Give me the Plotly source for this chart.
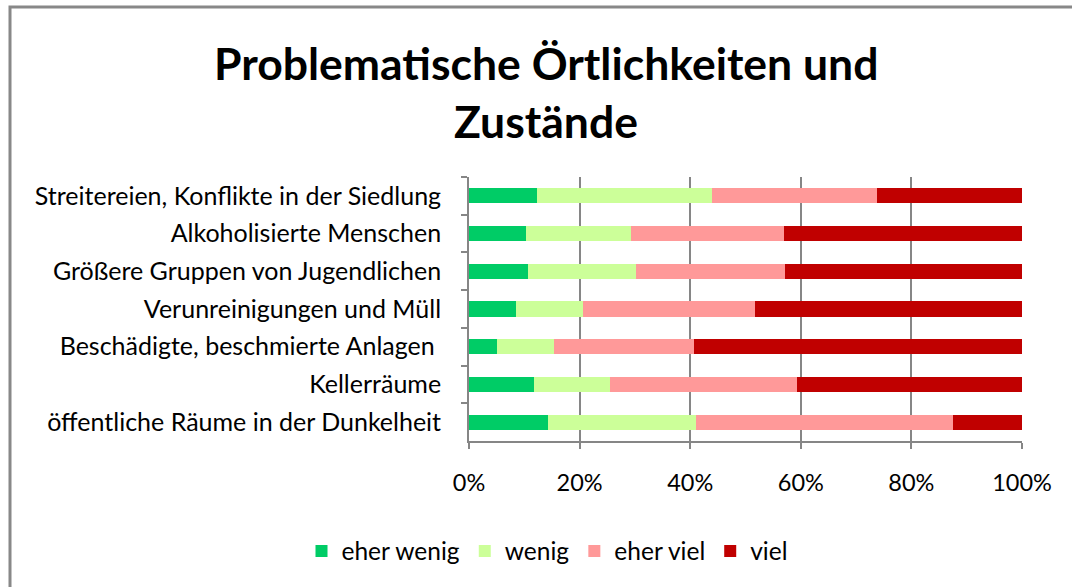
import plotly.graph_objects as go

categories = [
    "Streitereien, Konflikte in der Siedlung",
    "Alkoholisierte Menschen",
    "Größere Gruppen von Jugendlichen",
    "Verunreinigungen und Müll",
    "Beschädigte, beschmierte Anlagen ",
    "Kellerräume",
    "öffentliche Räume in der Dunkelheit",
]
eher_wenig = [12.3, 10.3, 10.6, 8.5, 5.0, 11.7, 14.2]
wenig = [31.6, 19.0, 19.6, 12.2, 10.3, 13.8, 26.8]
eher_viel = [29.8, 27.6, 26.9, 31.0, 25.4, 33.8, 46.5]
viel = [26.3, 43.1, 42.9, 48.3, 59.3, 40.7, 12.5]

series_names = ["eher wenig", "wenig", "eher viel", "viel"]
series_values = [eher_wenig, wenig, eher_viel, viel]
series_colors = ["#00CC66", "#CCFF99", "#FF9999", "#C00000"]

x_ticks = [0, 20, 40, 60, 80, 100]
x_tick_labels = ["0%", "20%", "40%", "60%", "80%", "100%"]

FONT = "Lato"
W, H = 1072, 587
# target page coordinates of the plot area
PL, PR, PT, PB = 469, 1022, 177, 441
L, R, T, B = PL, W - PR, PT, H - PB
pw, ph = W - L - R, H - T - B

fig = go.Figure()
for name, vals, col in zip(series_names, series_values, series_colors):
    fig.add_trace(go.Bar(
        y=categories, x=vals, name=name, orientation="h",
        marker=dict(color=col, line=dict(width=0)),
    ))

def px_x(px):
    return (px - PL) / pw

def px_y(py):
    return (PB - py) / ph

fig.update_layout(
    width=W, height=H,
    margin=dict(l=L, r=R, t=T, b=B),
    barmode="stack", bargap=0.6,
    paper_bgcolor="white", plot_bgcolor="white",
    font=dict(family=FONT, size=24, color="#000000"),
    showlegend=True,
    legend=dict(
        orientation="h", x=px_x(547), y=px_y(551), xanchor="center", yanchor="middle",
        traceorder="normal", font=dict(family=FONT, size=24.5), itemsizing="constant",
        itemwidth=30,
    ),
    xaxis=dict(
        range=[0, 100], tickvals=x_ticks, ticktext=x_tick_labels,
        showgrid=True, gridcolor="#868686", gridwidth=1.8,
        showline=True, linecolor="#868686", linewidth=1.8,
        ticks="outside", ticklen=6, tickcolor="#868686", tickwidth=1.5,
        ticklabelstandoff=14, zeroline=False, fixedrange=True,
        tickfont=dict(family=FONT, size=23.5),
    ),
    yaxis=dict(
        autorange="reversed", tickson="boundaries",
        showline=True, linecolor="#868686", linewidth=1.8,
        ticks="outside", ticklen=6, tickcolor="#868686", tickwidth=1.5,
        ticklabelstandoff=21, showgrid=False,
        tickfont=dict(family=FONT, size=25),
    ),
    annotations=[
        dict(text="<b>Problematische Örtlichkeiten und</b>", xref="paper", yref="paper",
             x=px_x(546), y=px_y(63), xanchor="center", yanchor="middle", showarrow=False,
             font=dict(family=FONT, size=44.5, color="#000000")),
        dict(text="<b>Zustände</b>", xref="paper", yref="paper",
             x=px_x(546), y=px_y(120), xanchor="center", yanchor="middle", showarrow=False,
             font=dict(family=FONT, size=44.5, color="#000000")),
    ],
    shapes=[
        dict(type="rect", xref="paper", yref="paper",
             x0=px_x(10), x1=px_x(1085), y0=px_y(7), y1=px_y(600),
             line=dict(color="#888888", width=3), fillcolor="rgba(0,0,0,0)", layer="below"),
    ],
)

fig.write_html("out.html", config={"displayModeBar": False},
               post_script="document.body.style.margin='0';")
